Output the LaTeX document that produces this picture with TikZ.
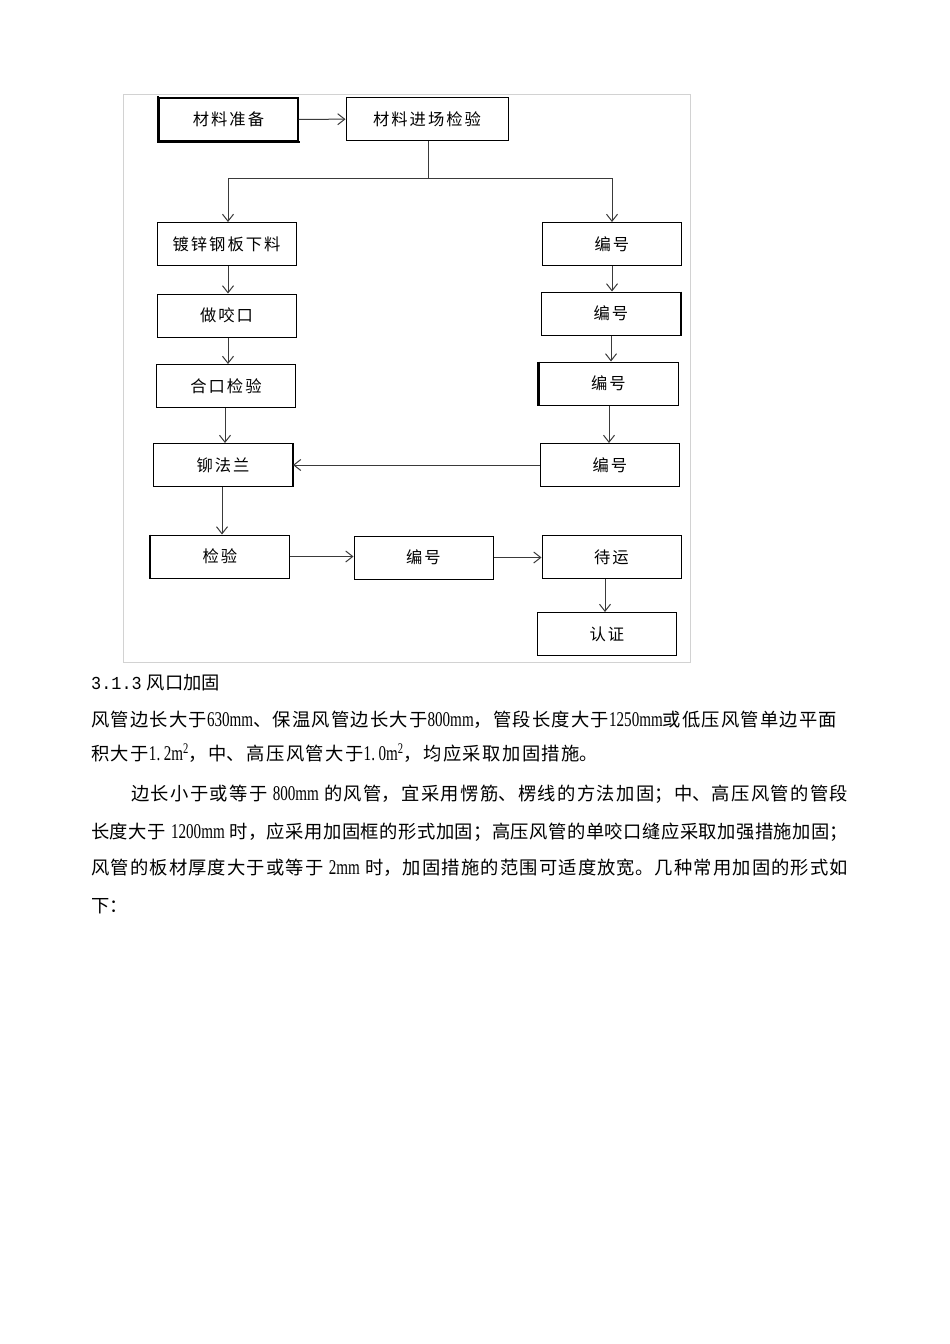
\documentclass[tikz,border=0pt]{standalone}
\usepackage{fontspec}
\setmainfont{Noto Sans CJK SC}
\newfontfamily\cjk{Noto Sans CJK SC}
\newfontfamily\lat[FakeStretch=0.72]{Liberation Serif}
\newfontfamily\mono[FakeStretch=0.92]{Liberation Mono}
\usetikzlibrary{arrows.meta}
\XeTeXlinebreaklocale "zh"
\XeTeXlinebreakskip=0pt plus 4pt
\definecolor{framegray}{HTML}{D2D2D2}
\definecolor{linegray}{HTML}{3A3A3A}
\newcommand{\flowsp}{\XeTeXlinebreakskip=2pt\relax}
\newcommand{\ltx}[1]{{\lat\fontsize{21}{22}\selectfont #1}}
\newcommand{\jline}[2]{\parbox{#1}{\tolerance=10000\hbadness=10000\parfillskip=0pt\spaceskip=5pt plus 1pt\xspaceskip=5pt plus 1pt\noindent #2}}
\tikzset{
  fbox/.style={draw=black, line width=1pt, inner sep=0pt, fill=white,
    minimum width=139pt, minimum height=43pt, text width=136pt, align=center,
    font=\cjk\fontsize{16.3}{20}\selectfont,
    execute at begin node=\flowsp},
  thickedge/.style={draw=black, line width=2.2pt},
  arr/.style={draw=linegray, line width=1pt,
    -{Straight Barb[length=7pt,width=11pt,line width=1pt]}},
  plainline/.style={draw=linegray, line width=1pt},
  bodytxt/.style={anchor=west, inner sep=0pt,
    font=\cjk\fontsize{18.3}{22}\selectfont}
}
\begin{document}
\begin{tikzpicture}[x=1pt,y=-1pt]
\useasboundingbox (0,0) rectangle (950,1344);
\fill[white] (0,0) rectangle (950,1344);
% frame
\draw[framegray, line width=1pt] (123.5,94.5) rectangle (690.5,662.5);
% nodes
\node[fbox, line width=1.4pt] (zb) at (228.5,119.5) {材料准备};
\node[fbox, minimum width=162pt] (jc) at (427,119) {材料进场检验};
\node[fbox] (dx) at (226.5,244) {镀锌钢板下料};
\node[fbox] (b1) at (612,244) {编号};
\node[fbox] (yk) at (226.5,315.5) {做咬口};
\node[fbox] (b2) at (611,313.5) {编号};
\node[fbox] (hk) at (226,386) {合口检验};
\node[fbox] (b3) at (608.5,383.5) {编号};
\node[fbox] (mf) at (223,465) {铆法兰};
\node[fbox] (b4) at (610,465) {编号};
\node[fbox] (jy) at (220,556.5) {检验};
\node[fbox] (b5) at (423.5,557.5) {编号};
\node[fbox] (dy) at (611.5,557) {待运};
\node[fbox] (rz) at (607,634) {认证};
% heavier edges as in the reference
\draw[thickedge, line cap=rect] (zb.north west) -- (zb.south west) -- (zb.south east);
\draw[thickedge] (b2.north east) -- (b2.south east);
\draw[thickedge] (b3.north west) -- (b3.south west);
\draw[thickedge] (mf.north east) -- (mf.south east);
\draw[thickedge] (jy.north west) -- (jy.south west);
% connectors
\draw[arr] (zb) -- (jc);
\coordinate (split) at (428,178);
\coordinate (sl) at (228,178);
\coordinate (sr) at (612,178);
\coordinate (c225) at (225,0);
\coordinate (c222) at (222,0);
\coordinate (c611) at (611,0);
\coordinate (c609) at (609,0);
\coordinate (c605) at (605,0);
\draw[plainline] (jc.south -| split) -- (split);
\draw[plainline] (sl) -- (sr);
\draw[arr] (sl) -- (sl |- dx.north);
\draw[arr] (sr) -- (sr |- b1.north);
\draw[arr] (dx.south -| sl) -- (sl |- yk.north);
\draw[arr] (yk.south -| sl) -- (sl |- hk.north);
\draw[arr] (hk.south -| c225) -- (c225 |- mf.north);
\draw[arr] (mf.south -| c222) -- (c222 |- jy.north);
\draw[arr] (b1.south -| sr) -- (sr |- b2.north);
\draw[arr] (b2.south -| c611) -- (c611 |- b3.north);
\draw[arr] (b3.south -| c609) -- (c609 |- b4.north);
\draw[arr] (b4.west) -- (mf.east);
\draw[arr] (jy.east) -- (b5.west |- jy.east);
\draw[arr] (b5.east) -- (dy.west |- b5.east);
\draw[arr] (dy.south -| c605) -- (c605 |- rz.north);
% body text
\node[bodytxt] (t1) at (91,683) {{\mono 3.1.3}\hspace{5pt}风口加固};
\node[bodytxt] (t2) at (91,720) {\jline{746pt}{风管边长大于\ltx{630mm}、保温风管边长大于\ltx{800mm}，管段长度大于\ltx{1250mm}或低压风管单边平面}};
\node[bodytxt] (t3) at (91,753) {\jline{507pt}{积大于\ltx{1.\,2m\textsuperscript{2}}，中、高压风管大于\ltx{1.\,0m\textsuperscript{2}}，均应采取加固措施。}};
\node[bodytxt] (t4) at (131,794) {\jline{717pt}{边长小于或等于 \ltx{800mm} 的风管，宜采用愣筋、楞线的方法加固；中、高压风管的管段}};
\node[bodytxt] (t5) at (91,832) {\jline{757pt}{长度大于 \ltx{1200mm} 时，应采用加固框的形式加固；高压风管的单咬口缝应采取加强措施加固；}};
\node[bodytxt] (t6) at (91,868) {\jline{757pt}{风管的板材厚度大于或等于 \ltx{2mm} 时，加固措施的范围可适度放宽。几种常用加固的形式如}};
\node[bodytxt] (t7) at (91,906) {下：};
\end{tikzpicture}
\end{document}
